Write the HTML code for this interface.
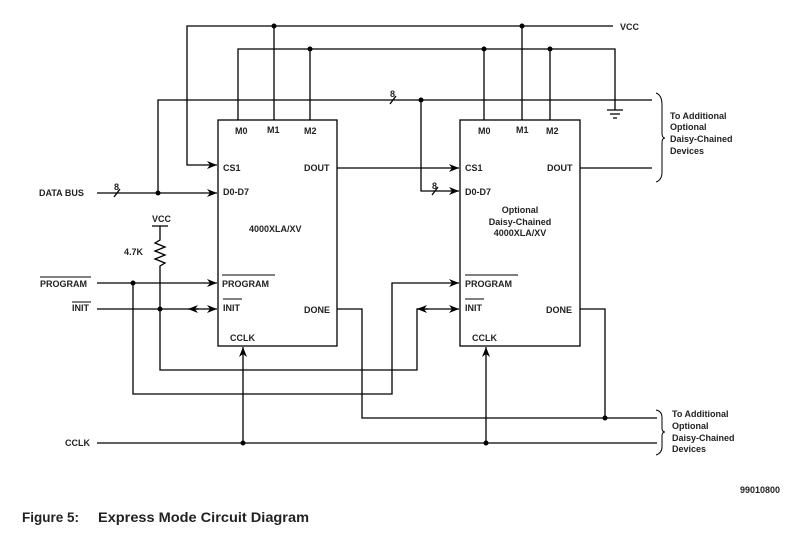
<!DOCTYPE html>
<html><head><meta charset="utf-8"><style>
html,body{margin:0;padding:0;background:#fff;}
svg{display:block;}
text{font-family:"Liberation Sans",Arial,sans-serif;font-weight:bold;font-size:9px;fill:#222;}
</style></head><body>
<svg width="800" height="536" viewBox="0 0 800 536" xmlns="http://www.w3.org/2000/svg">
<defs>
<marker id="a" markerWidth="10" markerHeight="8" refX="10" refY="4" orient="auto" markerUnits="userSpaceOnUse">
<path d="M0,0 L10,4 L0,8 L3,4 Z" fill="#000"/></marker>
</defs>
<g stroke="#000" stroke-width="1.3" fill="none">
<rect x="218" y="120" width="119" height="226"/>
<rect x="460" y="120" width="120" height="226"/>
<path d="M613,26 H187 V165 H217" marker-end="url(#a)"/>
<path d="M274,26 V120 M522,26 V120"/>
<path d="M238,120 V49 H615 V110"/>
<path d="M310,49 V120 M484,49 V120 M550,49 V120"/>
<path d="M607,110 H623 M610,114 H620 M613,118 H617"/>
<path d="M652,100 H158 V193"/>
<path d="M421,100 V191 H459" marker-end="url(#a)"/>
<path d="M390,104 L396,96 M432,195 L438,187 M114,197 L120,189"/>
<path d="M97,193 H217" marker-end="url(#a)"/>
<path d="M337,168 H459" marker-end="url(#a)"/>
<path d="M580,168 H652"/>
<path d="M152,226 H168 M160,226 V240 L155,243 L165,247 L155,251 L165,255 L155,259 L165,263 L160,266 V370 H417 V309 H459" marker-end="url(#a)"/>
<path d="M417,309 H428" marker-end="url(#a)" transform="rotate(180 422.5 309)"/>
<path d="M97,283 H217" marker-end="url(#a)"/>
<path d="M133,283 V394 H392 V283 H459" marker-end="url(#a)"/>
<path d="M97,309 H217" marker-end="url(#a)"/>
<path d="M188,309 H199" marker-end="url(#a)" transform="rotate(180 193.5 309)"/>
<path d="M337,309 H362 V418 H657"/>
<path d="M580,309 H605 V418"/>
<path d="M97,443 H657"/>
<path d="M243,443 V347" marker-end="url(#a)"/>
<path d="M486,443 V347" marker-end="url(#a)"/>
<path d="M656,93 Q662,95 662,105 V133 Q662,138 665,138 Q662,138 662,143 V172 Q662,180 656,182" stroke-width="1"/>
<path d="M656,410 Q662,411 662,418 V428 Q662,432 665,432 Q662,432 662,436 V447 Q662,453 656,455" stroke-width="1"/>
<path d="M40,277 H91 M72,302 H91 M222,275 H275 M223,299 H242 M465,275 H518 M465,299 H484" stroke-width="1"/>
</g>
<g fill="#000">
<circle cx="274" cy="26" r="2.5"/><circle cx="522" cy="26" r="2.5"/>
<circle cx="310" cy="49" r="2.5"/><circle cx="484" cy="49" r="2.5"/><circle cx="550" cy="49" r="2.5"/>
<circle cx="421" cy="100" r="2.5"/><circle cx="158" cy="193" r="2.5"/>
<circle cx="133" cy="283" r="2.5"/><circle cx="160" cy="309" r="2.5"/>
<circle cx="605" cy="418" r="2.5"/><circle cx="243" cy="443" r="2.5"/><circle cx="486" cy="443" r="2.5"/>
</g>
<text x="620" y="30">VCC</text>
<text x="390" y="97">8</text><text x="114" y="190">8</text><text x="432" y="189">8</text>
<text x="39" y="196">DATA BUS</text>
<text x="152" y="222">VCC</text>
<text x="124" y="255">4.7K</text>
<text x="40" y="287">PROGRAM</text>
<text x="72" y="311">INIT</text>
<text x="65" y="446">CCLK</text>
<text x="235" y="134">M0</text><text x="267" y="133">M1</text><text x="304" y="134">M2</text>
<text x="223" y="171">CS1</text><text x="223" y="195">D0-D7</text>
<text x="304" y="171">DOUT</text>
<text x="249" y="232">4000XLA/XV</text>
<text x="222" y="287">PROGRAM</text><text x="223" y="311">INIT</text>
<text x="304" y="313">DONE</text><text x="230" y="341">CCLK</text>
<text x="478" y="134">M0</text><text x="516" y="133">M1</text><text x="546" y="134">M2</text>
<text x="465" y="171">CS1</text><text x="465" y="195">D0-D7</text>
<text x="547" y="171">DOUT</text>
<text x="520" y="213" text-anchor="middle">Optional</text>
<text x="520" y="225" text-anchor="middle">Daisy-Chained</text>
<text x="520" y="236" text-anchor="middle">4000XLA/XV</text>
<text x="465" y="287">PROGRAM</text><text x="465" y="311">INIT</text>
<text x="546" y="313">DONE</text><text x="472" y="341">CCLK</text>
<text x="670" y="119">To Additional</text><text x="670" y="130">Optional</text>
<text x="670" y="142">Daisy-Chained</text><text x="670" y="154">Devices</text>
<text x="672" y="417">To Additional</text><text x="672" y="429">Optional</text>
<text x="672" y="441">Daisy-Chained</text><text x="672" y="452">Devices</text>
<text x="740" y="493">99010800</text>
<text x="22" y="522" style="font-size:14px" textLength="57" lengthAdjust="spacingAndGlyphs">Figure 5:</text>
<text x="98" y="522" style="font-size:14px" textLength="211" lengthAdjust="spacingAndGlyphs">Express Mode Circuit Diagram</text>
</svg>
</body></html>
